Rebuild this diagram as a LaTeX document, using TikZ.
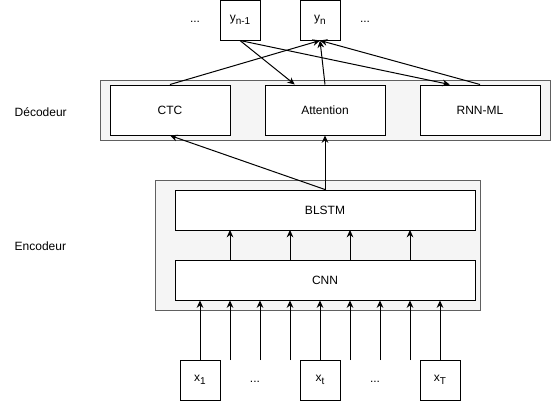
\documentclass[tikz,border=0pt]{standalone}
\usepackage{fontspec}
\setmainfont{Liberation Sans}
\usetikzlibrary{arrows.meta, positioning, calc}

\newcommand{\bas}[1]{\raisebox{-2pt}{\fontsize{7.5}{8}\selectfont #1}}

\tikzset{
  bloc/.style={draw, fill=white, line width=0.75pt, inner sep=0pt},
  cadre/.style={draw=gray!75!black, fill=gray!8, line width=0.75pt},
  fleche/.style={-{Stealth[length=5.5pt, width=5pt]}, line width=0.75pt},
}

\begin{document}
\begin{tikzpicture}[x=0.75pt, y=-0.75pt, font=\fontsize{9}{11}\selectfont]
            \useasboundingbox (0,0) rectangle (551,401);

            % Cadres
            \draw[cadre] (100,80) rectangle (550,140);
            \draw[cadre] (155,180) rectangle (480,310);
            \node[anchor=west] (dec) at (10,112) {Décodeur};
            \node[anchor=west] (enc) at (10,246) {Encodeur};

            % Sorties
            \node[bloc, minimum width=30pt, minimum height=30pt] (yp) at (240,20) {y\bas{n-1}};
            \node[bloc, minimum width=30pt, minimum height=30pt] (yn) at (320,20) {y\bas{n}};
            \node (d1) at (195,22) {...};
            \node (d2) at (365,22) {...};

            % Decodeur
            \node[bloc, minimum width=90pt, minimum height=37.5pt] (ctc) at (170,110) {CTC};
            \node[bloc, minimum width=90pt, minimum height=37.5pt] (att) at (325,110) {Attention};
            \node[bloc, minimum width=90pt, minimum height=37.5pt] (rnn) at (480,110) {RNN-ML};

            % Encodeur
            \node[bloc, minimum width=225pt, minimum height=30pt] (blstm) at (325,210) {BLSTM};
            \node[bloc, minimum width=225pt, minimum height=30pt] (cnn) at (325,280) {CNN};

            % Entrees
            \node[bloc, minimum width=30pt, minimum height=30pt] (x1) at (200,380) {x\bas{1}};
            \node[bloc, minimum width=30pt, minimum height=30pt] (xt) at (320,380) {x\bas{t}};
            \node[bloc, minimum width=30pt, minimum height=30pt] (xT) at (440,380) {x\bas{T}};
            \node (d3) at (255,382) {...};
            \node (d4) at (375,382) {...};

            % Connexions
            \draw[fleche] (ctc.north) -- (yn.south);
            \draw[fleche] (att.north) -- (yn.south);
            \draw[fleche] (rnn.north) -- (yn.south);
            \draw[fleche] (yp.south) -- ($(att.north west)!0.25!(att.north east)$);
            \draw[fleche] (yp.south) -- ($(rnn.north west)!0.25!(rnn.north east)$);
            \draw[fleche] (blstm.north) -- (ctc.south);
            \draw[fleche] (blstm.north) -- (att.south);

            \foreach \x in {230,290,350,410}
                \draw[fleche] (\x,260) -- (\x,230);

            \draw[fleche] (x1.north) -- (x1.north |- cnn.south);
            \draw[fleche] (xt.north) -- (xt.north |- cnn.south);
            \draw[fleche] (xT.north) -- (xT.north |- cnn.south);
            \foreach \x in {230,260,290,350,380,410} {
                \coordinate (in\x) at (\x,360);
                \draw[fleche] (in\x) -- (in\x |- cnn.south);
            }
        \end{tikzpicture}
\end{document}
